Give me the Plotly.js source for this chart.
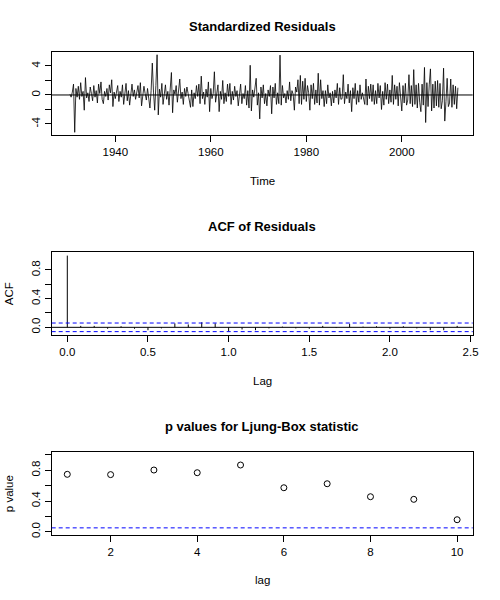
<!DOCTYPE html>
<html>
<head>
<meta charset="utf-8">
<script src="https://cdn.plot.ly/plotly-3.0.1.min.js"></script>
<style>
  html, body { margin: 0; padding: 0; background: #fff; }
  #chart { width: 500px; height: 600px; }
</style>
</head>
<body>
<div id="chart"></div>
<script>
// tsdiag-style diagnostics, values

// standardized residuals, quarterly sampling of the series from 1930.5
const RESID_START = 1930.5;
const RESID_FREQ = 4;
const residuals = [
  0.1, -0.3,
  0.4, 1.5, -5.15, 0.9,   // 1931
  -0.3, 1.2, -0.6, 1.7,
  -0.2, 0.5, -2.1, 2.4,
  -0.4, 0.3, -0.9, 1.1,
  0.2, -0.8, 1.3, -0.3,   // 1935
  0.6, -1.1, 1.5, 0.2,
  1.8, -0.6, -1.2, 0.5,
  -0.2, 0.9, -0.7, 1.4,
  0.3, 2.1, -1.6, 0.4,
  -0.5, 0.2, 1.3, -0.9,   // 1940
  0.5, -0.3, 1.4, -1.3,
  0.1, 1.6, -0.8, 0.6,
  -1.4, 0.3, 1.5, -0.2,
  0.7, -0.6, 0.2, 1.3,
  -0.4, 1.7, -1.5, 0.3,   // 1945
  1.2, 0.2, -0.7, 0.9,
  -0.3, -1.8, 0.6, 4.4,
  0.4, -2.1, 1.3, 5.55,
  -2.75, 0.8, -0.3, 1.6,
  -1.3, 0.2, 1.4, -0.6,   // 1950
  0.5, -1.4, 0.9, 3.1,
  -2.45, 0.7, 0.1, 1.3,
  -1.0, 0.3, 2.2, -0.5,
  0.4, -1.3, 0.9, -0.2,
  1.1, 0.2, -0.6, -1.7,   // 1955
  0.7, -1.6, 0.3, -0.5,
  1.3, -0.2, 1.5, -1.2,
  2.6, -0.5, 0.4, -1.3,
  0.8, -0.3, 1.8, -2.3,
  0.9, -0.5, 0.2, 3.2,    // 1960
  -1.0, 0.6, 1.4, -2.3,
  0.5, -0.6, 2.0, -1.2,
  0.3, -0.9, 1.5, -0.2,
  1.6, -1.3, 0.5, -0.7,
  1.2, -0.2, 0.6, -1.5,   // 1965
  0.4, 1.5, -1.2, 0.2,
  -0.5, 1.3, -1.4, 0.6,
  -1.8, 4.1, -2.2, 0.7,
  -0.3, 1.1, 2.3, -1.4,
  0.3, -3.3, 1.1, -0.4,   // 1970
  1.4, -1.2, 0.2, -1.5,
  0.7, -0.2, 1.3, -2.6,
  1.1, -0.4, 1.6, -1.3,
  0.3, -1.2, 5.5, -1.4,
  1.3, -0.4, 0.2, -1.1,   // 1975
  0.6, -0.6, 1.8, -0.8,
  0.6, 0.1, -2.1, 1.1,
  0.4, 2.1, -1.2, 2.7,
  -1.3, 1.9, -0.6, 2.3,
  -0.9, 1.3, 0.3, -2.1,   // 1980
  1.4, -0.5, 1.6, -1.3,
  0.7, -1.1, 3.0, -1.4,
  2.1, -0.5, 0.6, -1.6,
  0.6, -1.2, 1.4, -0.4,
  0.3, -1.5, 0.5, -1.1,   // 1985
  0.7, -0.4, 1.6, -1.3,
  1.0, -0.6, -0.5, 2.8,
  -1.2, 0.4, -0.5, 1.5,
  -1.1, 0.6, -2.3, 1.0,
  -0.5, 1.6, -1.3, 0.6,   // 1990
  -1.0, 1.4, -0.6, 0.3,
  -0.7, -1.3, 2.2, -1.4,
  1.2, -0.5, 1.5, -0.9,
  1.4, -1.3, 0.6, -1.2,
  1.6, -0.4, 1.3, -2.0,   // 1995
  0.5, -1.4, 1.7, -0.6,
  1.5, -1.2, 0.7, -1.0,
  2.7, -1.3, 1.4, -0.6,
  1.2, -1.5, 1.7, -0.9,
  -2.2, 1.3, -1.1, 1.6,   // 2000
  -1.4, -0.7, 2.8, -1.2,
  1.3, -1.6, 3.5, -1.3,
  1.4, -1.8, 1.6, -1.0,
  -2.3, 1.5, -1.4, 3.8,
  -3.8, 1.7, -1.6, 1.4,   // 2005
  3.6, -2.2, 1.5, -1.8,
  1.9, -1.5, 2.0, -1.7,
  1.6, -1.9, -0.8, 3.7,
  -3.6, -0.9, 2.3, -1.6,
  -1.1, 2.2, -1.7, 1.4,   // 2010
  -1.3, 1.2, -1.9, 1.0
];

// ACF of residuals, monthly lags 0..29 (lag axis in years)
const ACF_FREQ = 12;
const acfValues = [
  1.0, 0.02, 0.02, -0.02, 0.015, -0.02, -0.04, -0.015, 0.055, 0.04,
  0.07, 0.055, -0.055, -0.03, -0.04, -0.015, 0.01, -0.015, -0.02, 0.02,
  -0.01, 0.05, 0.01, 0.015, -0.02, 0.015, -0.015, -0.04, -0.04, 0.02
];
const ACF_CLIM = 0.06;

// Ljung-Box p values by lag
const lbLags = [1, 2, 3, 4, 5, 6, 7, 8, 9, 10];
const lbPvalues = [0.748, 0.744, 0.804, 0.769, 0.869, 0.573, 0.625, 0.456, 0.422, 0.156];
const LB_LEVEL = 0.05;

const residTime = residuals.map((_, i) => RESID_START + i / RESID_FREQ);

// type="h" spikes as one segmented line
const acfX = [], acfY = [];
acfValues.forEach((v, k) => {
  acfX.push(k / ACF_FREQ, k / ACF_FREQ, null);
  acfY.push(0, v, null);
});

const W = 500, H = 600;
const px = (x) => x / W;          // pixel -> paper x
const py = (y) => 1 - y / H;      // pixel -> paper y
const BOX_L = 51.7, BOX_R = 472.7;

const FONT = "Liberation Sans, Arial, Helvetica, sans-serif";

const axisBase = {
  showline: true, mirror: true, linecolor: "#000", linewidth: 1,
  ticks: "outside", ticklen: 6, tickwidth: 1, tickcolor: "#000",
  showgrid: false, zeroline: false, fixedrange: true,
  tickfont: { size: 11.5, color: "#000" },
};
const xAxis = (anchor, range, vals, text) => Object.assign({}, axisBase, {
  domain: [px(BOX_L), px(BOX_R)], anchor: anchor, range: range,
  tickmode: "array", tickvals: vals, ticktext: text,
});
const yAxis = (anchor, top, bottom, range, vals, text) => Object.assign({}, axisBase, {
  domain: [py(bottom), py(top)], anchor: anchor, range: range,
  tickmode: "array", tickvals: vals, ticktext: text, tickangle: -90,
});

const hline = (xref, yref, y, color, dash) => ({
  type: "line", xref: xref + " domain", yref: yref,
  x0: 0, x1: 1, y0: y, y1: y,
  line: { color: color, width: 1, dash: dash || "solid" },
});

const label = (text, x, y, opts) => Object.assign({
  text: text, xref: "paper", yref: "paper", x: px(x), y: py(y),
  xanchor: "center", yanchor: "middle", showarrow: false,
  font: { size: 11.5, color: "#000", family: FONT },
}, opts || {});
const title = (text, y) => label("<b>" + text + "</b>", (BOX_L + BOX_R) / 2, y,
  { font: { size: 13, color: "#000", family: FONT } });

const traces = [
  {
    x: residTime, y: residuals, xaxis: "x", yaxis: "y",
    mode: "lines", line: { color: "#000", width: 0.8 }, hoverinfo: "skip",
  },
  {
    x: acfX, y: acfY, xaxis: "x2", yaxis: "y2",
    mode: "lines", line: { color: "#000", width: 1 }, hoverinfo: "skip",
  },
  {
    x: lbLags, y: lbPvalues, xaxis: "x3", yaxis: "y3",
    mode: "markers",
    marker: { symbol: "circle-open", size: 6, color: "#000", line: { width: 1, color: "#000" } },
    hoverinfo: "skip",
  },
];

const layout = {
  width: W, height: H,
  margin: { l: 0, r: 0, t: 0, b: 0 },
  paper_bgcolor: "#fff", plot_bgcolor: "#fff",
  showlegend: false,
  font: { family: FONT, size: 11.5, color: "#000" },
  xaxis: xAxis("y", [1926.68, 2014.85], [1940, 1960, 1980, 2000], ["1940", "1960", "1980", "2000"]),
  yaxis: yAxis("x", 51.7, 135, [-5.52, 5.97], [-4, -2, 0, 2, 4], ["-4", "", "0", "", "4"]),
  xaxis2: xAxis("y2", [-0.0967, 2.513], [0, 0.5, 1, 1.5, 2, 2.5], ["0.0", "0.5", "1.0", "1.5", "2.0", "2.5"]),
  yaxis2: yAxis("x2", 252.3, 335, [-0.107, 1.046], [0, 0.2, 0.4, 0.6, 0.8], ["0.0", "", "0.4", "", "0.8"]),
  xaxis3: xAxis("y3", [0.64, 10.36], [2, 4, 6, 8, 10], ["2", "4", "6", "8", "10"]),
  yaxis3: yAxis("x3", 452.3, 535, [-0.043, 1.035], [0, 0.2, 0.4, 0.6, 0.8, 1], ["0.0", "", "0.4", "", "0.8", ""]),
  shapes: [
    hline("x", "y", 0, "#000"),
    hline("x2", "y2", 0, "#000"),
    hline("x2", "y2", ACF_CLIM, "#0000ff", "4px,3px"),
    hline("x2", "y2", -ACF_CLIM, "#0000ff", "4px,3px"),
    hline("x3", "y3", LB_LEVEL, "#0000ff", "4px,3px"),
  ],
  annotations: [
    title("Standardized Residuals", 26),
    title("ACF of Residuals", 226),
    title("p values for Ljung-Box statistic", 426),
    label("Time", 262, 181),
    label("Lag", 262, 381),
    label("lag", 262, 580),
    label("ACF", 8.5, 293.7, { textangle: -90 }),
    label("p value", 8.5, 493.7, { textangle: -90 }),
  ],
};

Plotly.newPlot("chart", traces, layout, { displayModeBar: false, staticPlot: true });
</script>
</body>
</html>
